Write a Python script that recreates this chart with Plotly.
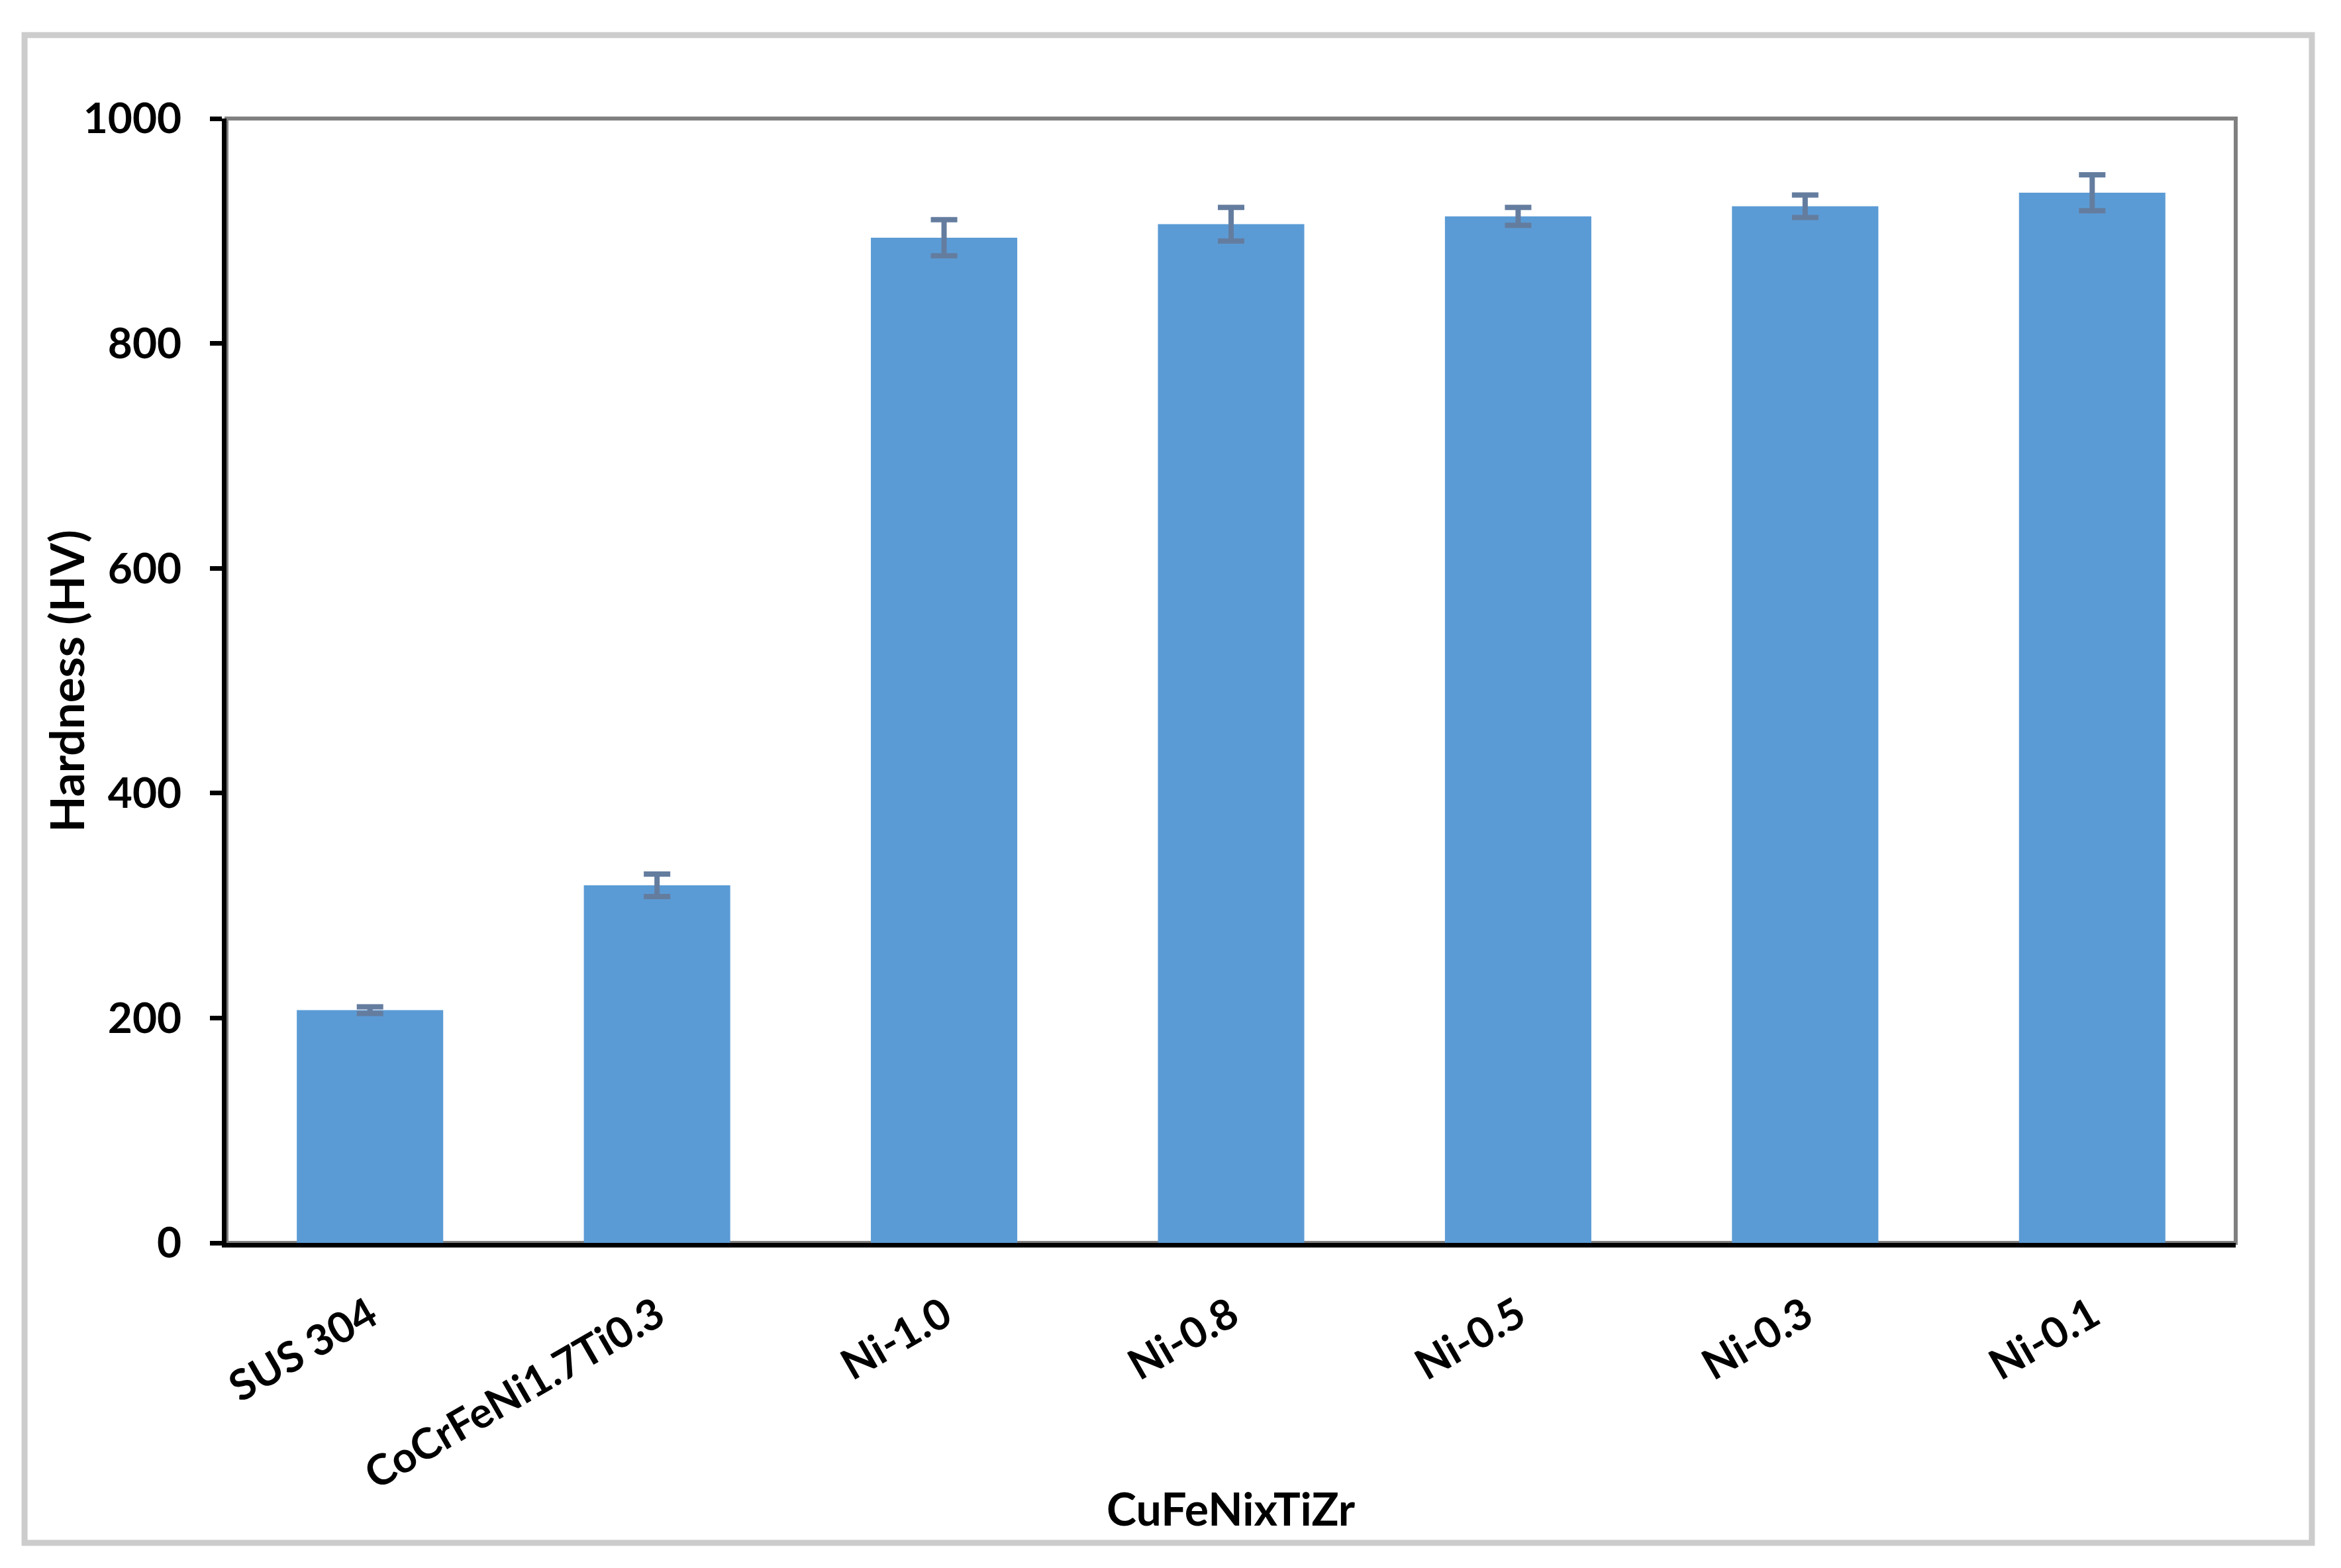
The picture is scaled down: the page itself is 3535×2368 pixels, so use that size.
import plotly.graph_objects as go

categories = ["SUS 304", "CoCrFeNi1.7Ti0.3", "Ni-1.0", "Ni-0.8", "Ni-0.5", "Ni-0.3", "Ni-0.1"]
hardness = [207, 318, 894, 906, 913, 922, 934]
hardness_err = [3, 10, 16, 15, 8, 10, 16]
y_ticks = [0, 200, 400, 600, 800, 1000]

FONT = "Lato"

fig = go.Figure()
fig.add_trace(go.Bar(
    x=categories,
    y=hardness,
    marker=dict(color="#5b9bd5", line=dict(width=0)),
    error_y=dict(type="data", array=hardness_err, visible=True,
                 color="#647d9f", thickness=8, width=20),
    showlegend=False,
))

fig.update_layout(
    width=3535, height=2368,
    paper_bgcolor="white", plot_bgcolor="white",
    margin=dict(l=334, r=167, t=171, b=499),
    bargap=0.49,
    font=dict(family=FONT, color="black"),
    xaxis=dict(
        showline=True, linecolor="black", linewidth=7,
        ticks="", tickangle=-30,
        tickfont=dict(family=FONT, size=64, color="black", weight="bold"),
        ticklabelstandoff=40,
        showgrid=False, zeroline=False,
    ),
    yaxis=dict(
        range=[0, 1000], tickvals=y_ticks,
        showline=True, linecolor="black", linewidth=7,
        ticks="outside", ticklen=18, tickwidth=7, tickcolor="black",
        tickfont=dict(family=FONT, size=64, color="black", weight="bold"),
        ticklabelstandoff=30,
        showgrid=False, zeroline=False,
    ),
    annotations=[
        dict(text="<b>CuFeNixTiZr</b>", xref="paper", yref="paper",
             x=0.5, y=-0.236, xanchor="center", yanchor="middle",
             showarrow=False, font=dict(family=FONT, size=68, color="black")),
        dict(text="<b>Hardness (HV)</b>", xref="paper", yref="paper",
             x=-0.0801, y=0.5, xanchor="center", yanchor="middle", textangle=-90,
             showarrow=False, font=dict(family=FONT, size=71, color="black")),
    ],
    shapes=[
        dict(type="rect", xref="paper", yref="paper", x0=0, x1=1, y0=0, y1=1,
             line=dict(color="#808080", width=6), layer="below"),
        dict(type="rect", xref="paper", yref="paper",
             x0=-0.1005, x1=1.0379, y0=-0.2668, y1=1.0742,
             line=dict(color="#cccccc", width=9), layer="below"),
    ],
)

fig.write_html("out.html")
